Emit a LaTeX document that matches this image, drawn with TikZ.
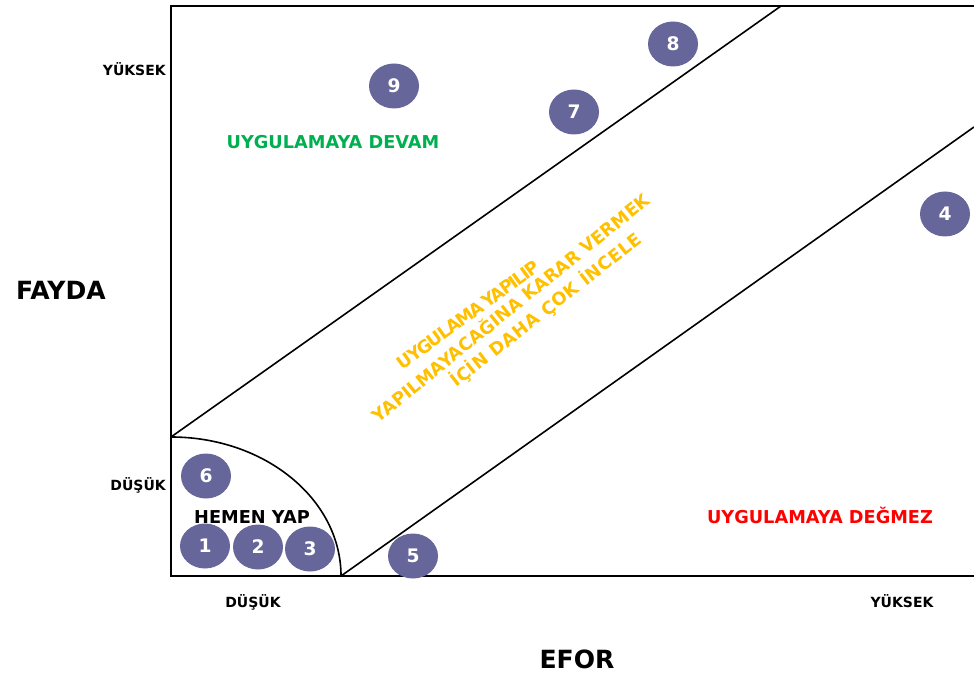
\documentclass[tikz,border=0pt]{standalone}
\usepackage{fontspec}
\setmainfont{DejaVu Sans}
\usetikzlibrary{shapes.geometric}
\definecolor{dot}{RGB}{103,102,154}
\definecolor{devam}{RGB}{0,176,80}
\definecolor{degmez}{RGB}{255,0,0}
\definecolor{incele}{RGB}{255,192,0}
\tikzset{
  frame/.style={line width=1.9pt},
  band/.style={line width=1.2pt},
  dotnode/.style={ellipse, fill=dot, minimum width=37.5pt, minimum height=33.75pt, inner sep=0pt,
    text=white, font=\bfseries\fontsize{14}{16}\selectfont},
  small/.style={font=\bfseries\fontsize{10.5}{12}\selectfont, inner sep=0pt},
  big/.style={font=\bfseries\fontsize{18.8}{21}\selectfont, inner sep=0pt},
  zone/.style={font=\bfseries\fontsize{13.3}{15}\selectfont, inner sep=0pt},
  slant/.style={zone, text=incele, anchor=base}
}
\begin{document}
\begin{tikzpicture}[x=0.75pt,y=-0.75pt]
\useasboundingbox (0,0) rectangle (974,673);
% frame
\draw[frame] (974,6) -- (171,6) -- (171,576) -- (974,576);
% bands
\draw[band] (171,437) -- (781,6);
\draw[band] (341,576) -- (974,127);
\draw[band] (171,437) arc[start angle=-90, end angle=0, x radius=170, y radius=139];
\draw[frame] (171,576) -- (341,576);
% axis labels
\node[small, anchor=base east] (yhi) at (166,76) {YÜKSEK};
\node[small, anchor=base east] (ylo) at (166,490) {DÜŞÜK};
\node[big, anchor=base] (fayda) at (61,300) {FAYDA};
\node[small, anchor=base] (xlo) at (253,607) {DÜŞÜK};
\node[small, anchor=base] (xhi) at (902,607) {YÜKSEK};
\node[big, anchor=base] (efor) at (577,668) {EFOR};
% zone labels
\node[zone, text=devam, anchor=base] (zdevam) at (333,149) {UYGULAMAYA DEVAM};
\node[zone, anchor=base] (zhemen) at (252,523) {HEMEN YAP};
\node[zone, text=degmez, anchor=base] (zdegmez) at (820,523) {UYGULAMAYA DEĞMEZ};
\node[slant, rotate=36] (s1) at (472,320) {\addfontfeature{LetterSpace=-8}UYGULAMA\hspace{0.12em}YAPILIP};
\node[slant, rotate=39] (s2) at (515,313) {YAPILMAYACAĞINA KARAR VERMEK};
\node[slant, rotate=38] (s3) at (550,315) {\addfontfeature{LetterSpace=3}İÇİN DAHA ÇOK İNCELE};
% items
\node[dotnode] (n1) at (205,546) {1};
\node[dotnode] (n2) at (258,547) {2};
\node[dotnode] (n3) at (310,549) {3};
\node[dotnode] (n4) at (945,214) {4};
\node[dotnode] (n5) at (413,556) {5};
\node[dotnode] (n6) at (206,476) {6};
\node[dotnode] (n7) at (574,112) {7};
\node[dotnode] (n8) at (673,44) {8};
\node[dotnode] (n9) at (394,86) {9};
\end{tikzpicture}
\end{document}
